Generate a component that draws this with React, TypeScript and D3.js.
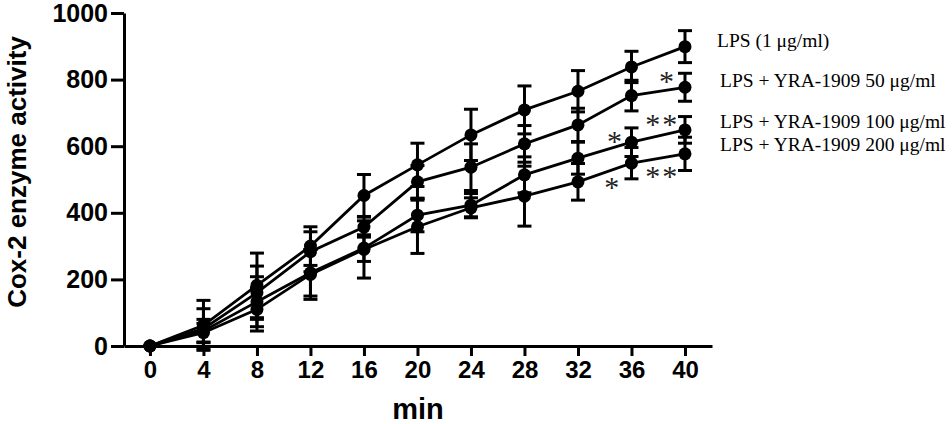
import * as d3 from 'd3';
import { useEffect, useRef } from "react";

const width = 952;
const height = 424;

// time points (min)
const minutes = [0, 4, 8, 12, 16, 20, 24, 28, 32, 36, 40];

// Cox-2 enzyme activity
const lps = [0, 62, 182, 300, 452, 544, 634, 709, 765, 838, 899];
const lpsErr = [0, 75, 97, 58, 63, 65, 77, 72, 62, 47, 48];
const yra50 = [0, 52, 160, 283, 357, 493, 537, 607, 664, 752, 777];
const yra50Err = [0, 60, 80, 60, 30, 49, 70, 55, 50, 46, 42];
const yra100 = [0, 45, 133, 220, 294, 393, 423, 514, 564, 612, 649];
const yra100Err = [0, 35, 75, 70, 40, 50, 35, 54, 48, 43, 40];
const yra200 = [0, 40, 110, 215, 290, 358, 415, 450, 493, 549, 577];
const yra200Err = [0, 28, 65, 75, 86, 80, 30, 90, 55, 47, 50];

const seriesNames = [
    "LPS (1 \u03bcg/ml)",
    "LPS + YRA-1909 50 \u03bcg/ml",
    "LPS + YRA-1909 100 \u03bcg/ml",
    "LPS + YRA-1909 200 \u03bcg/ml",
];
const seriesValues = [lps, yra50, yra100, yra200];
const seriesErrors = [lpsErr, yra50Err, yra100Err, yra200Err];

const yTicks = [0, 200, 400, 600, 800, 1000];
const xTicks = minutes;

// significance marks, in data units
const starMin = [38.7, 38.3, 34.8, 38.3, 34.6];
const starVal = [809, 679, 629, 523, 489];
const starText = ["*", "**", "*", "**", "*"];

// legend layout (px)
const legendX = [717, 720, 720, 720];
const legendY = [47, 87, 128, 151];

const App = () => {
    const gx = useRef<any>(null);
    const gy = useRef<any>(null);

    const x = d3.scaleLinear([-1.94, 42.02], [124, 712]);
    const y = d3.scaleLinear([0, 1000], [346, 13]);
    const line = d3.line<number>((d, i) => x(minutes[i]), (d) => y(d));

    useEffect(() => {
        const g = d3.select(gx.current);
        g.call(d3.axisBottom(x).tickValues(xTicks).tickFormat(d3.format("d")).tickSize(10).tickSizeOuter(0).tickPadding(5));
        g.selectAll("path, line").attr("stroke", "#000").attr("stroke-width", 3);
        g.selectAll("text")
            .attr("font-family", "Liberation Sans, Arial, sans-serif")
            .attr("font-weight", "bold")
            .attr("font-size", 24)
            .attr("fill", "#000");
    }, [gx, x]);
    useEffect(() => {
        const g = d3.select(gy.current);
        g.call(d3.axisLeft(y).tickValues(yTicks).tickFormat(d3.format("d")).tickSize(13).tickSizeOuter(0).tickPadding(3));
        g.selectAll("path, line").attr("stroke", "#000").attr("stroke-width", 3);
        g.selectAll("text")
            .attr("font-family", "Liberation Sans, Arial, sans-serif")
            .attr("font-weight", "bold")
            .attr("font-size", 25)
            .attr("fill", "#000");
    }, [gy, y]);

    return (
        <svg width={width} height={height} style={{ position: "absolute", left: 0, top: 0, background: "#fff" }}>
            <g ref={gx} transform={`translate(0,${y(0)})`} />
            <g ref={gy} transform={`translate(${x(-1.94)},0)`} />

            {seriesValues.map((vals, s) => (
                <path key={"l" + s} fill="none" stroke="#000" strokeWidth={2.8} d={line(vals) as string} />
            ))}
            {seriesValues.map((vals, s) => (
                <g key={"e" + s} stroke="#000" strokeWidth={3}>
                    {vals.map((v, i) => {
                        const e = seriesErrors[s][i];
                        if (!e) return null;
                        const cx = x(minutes[i]);
                        return (
                            <g key={i}>
                                <line x1={cx} x2={cx} y1={y(v - e)} y2={y(v + e)} />
                                <line x1={cx - 7} x2={cx + 7} y1={y(v + e)} y2={y(v + e)} />
                                <line x1={cx - 7} x2={cx + 7} y1={y(v - e)} y2={y(v - e)} />
                            </g>
                        );
                    })}
                </g>
            ))}
            {seriesValues.map((vals, s) => (
                <g key={"m" + s} fill="#000">
                    {vals.map((v, i) => (
                        <circle key={i} cx={x(minutes[i])} cy={y(v)} r={6.5} />
                    ))}
                </g>
            ))}

            <g fontFamily="Liberation Serif, Times New Roman, serif" fontSize={30} fill="#222" textAnchor="middle" letterSpacing={2}>
                {starText.map((t, i) => (
                    <text key={i} x={x(starMin[i])} y={y(starVal[i]) + 14}>{t}</text>
                ))}
            </g>

            <g fontFamily="Liberation Serif, Times New Roman, serif" fontSize={19.5} fill="#000">
                {seriesNames.map((n, i) => (
                    <text key={i} x={legendX[i]} y={legendY[i]}>{n}</text>
                ))}
            </g>

            <text
                transform="translate(26,172) rotate(-90)"
                textAnchor="middle"
                fontFamily="Liberation Sans, Arial, sans-serif"
                fontWeight="bold"
                fontSize={26}
            >
                Cox-2 enzyme activity
            </text>
            <text x={418} y={419} textAnchor="middle" fontFamily="Liberation Sans, Arial, sans-serif" fontWeight="bold" fontSize={29}>
                min
            </text>
        </svg>
    );
};

export default App;
